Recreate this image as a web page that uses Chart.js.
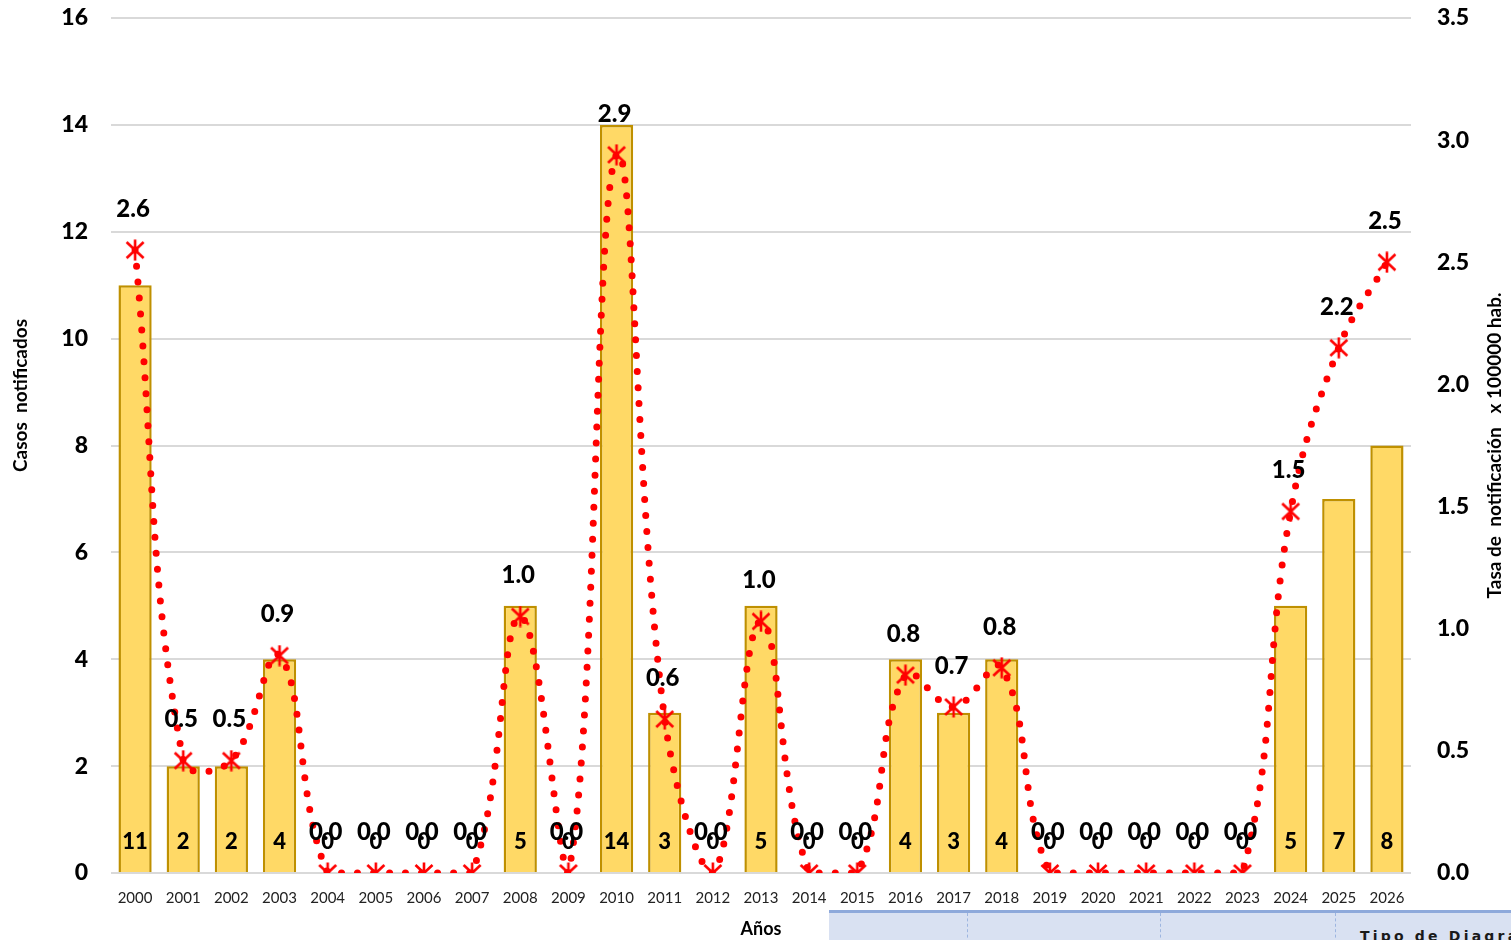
<!DOCTYPE html>
<html lang="es">
<head>
<meta charset="utf-8">
<title>Casos notificados y tasa de notificación</title>
<script src="https://cdn.jsdelivr.net/npm/chart.js@4.4.1/dist/chart.umd.min.js"></script>
<style>
  html, body { margin: 0; padding: 0; background: #fff; overflow: hidden; }
  #wrap { position: relative; width: 1511px; height: 940px; }
  #chart { position: absolute; left: 0; top: 0; }
  /* pedazo de la tabla de la hoja que asoma abajo */
  .sheet {
    position: absolute; left: 829px; top: 910px; width: 682px; height: 30px;
    background: #D9E1F2; border-top: 3px solid #8EA9DB; overflow: hidden;
  }
  .sheet .sep { position: absolute; top: 0; bottom: 0; border-left: 1px dashed #9DB5E0; }
  .sheet .txt {
    position: absolute; left: 531px; top: 15px; white-space: nowrap;
    font: bold 14px "DejaVu Sans", sans-serif; letter-spacing: 3.2px; color: #1a1a1a;
  }
</style>
</head>
<body>
<div id="wrap">
  <canvas id="chart" width="1511" height="940"></canvas>
  <div class="sheet">
    <div class="sep" style="left:138px"></div>
    <div class="sep" style="left:331px"></div>
    <div class="sep" style="left:506px"></div>
    <div class="txt">Tipo de Diagrama</div>
  </div>
</div>
<script>
// ===== DATA =====
const years = ['2000','2001','2002','2003','2004','2005','2006','2007','2008','2009','2010','2011','2012',
               '2013','2014','2015','2016','2017','2018','2019','2020','2021','2022','2023','2024','2025','2026'];
const casos = [11, 2, 2, 4, 0, 0, 0, 0, 5, 0, 14, 3, 0, 5, 0, 0, 4, 3, 4, 0, 0, 0, 0, 0, 5, 7, 8];
const tasa  = [2.55, 0.46, 0.46, 0.89, 0, 0, 0, 0, 1.05, 0, 2.94, 0.63, 0, 1.03, 0, 0, 0.81, 0.68, 0.84,
               0, 0, 0, 0, 0, 1.48, 2.15, 2.5];
const tasaLabels = ['2.6','0.5','0.5','0.9','0.0','0.0','0.0','0.0','1.0','0.0','2.9','0.6','0.0',
                    '1.0','0.0','0.0','0.8','0.7','0.8','0.0','0.0','0.0','0.0','0.0','1.5','2.2','2.5'];

const leftTitle = 'Casos  notificados';
const rightTitle = 'Tasa de  notificación   x 100000 hab.';
const xTitle = 'Años';

const FONT = 'Lato, "Open Sans", sans-serif';
const HEAVY = '900';

// ===== STAR MARKER (X + vertical bar, like Excel) =====
function makeStar() {
  const c = document.createElement('canvas');
  c.width = 22; c.height = 22;
  const g = c.getContext('2d');
  g.strokeStyle = '#FF0000';
  g.lineWidth = 2.6;
  g.beginPath();
  g.moveTo(2.5, 3); g.lineTo(19.5, 19);
  g.moveTo(19.5, 3); g.lineTo(2.5, 19);
  g.moveTo(11, 0.5); g.lineTo(11, 21.5);
  g.stroke();
  return c;
}

// ===== LABELS + ROTATED TITLES =====
const labelPlugin = {
  id: 'labelPlugin',
  afterDatasetsDraw(chart) {
    const ctx = chart.ctx;
    const area = chart.chartArea;
    const y0 = chart.scales.y.getPixelForValue(0);
    ctx.save();
    ctx.fillStyle = '#000';
    ctx.textAlign = 'center';
    ctx.textBaseline = 'middle';

    // bar values, at the foot of each bar
    ctx.font = HEAVY + ' 22px ' + FONT;
    chart.getDatasetMeta(0).data.forEach((el, i) => {
      ctx.fillText(String(casos[i]), el.x, y0 - 31);
    });

    // rate values, above each marker
    ctx.font = HEAVY + ' 24px ' + FONT;
    chart.getDatasetMeta(1).data.forEach((el, i) => {
      ctx.fillText(tasaLabels[i], el.x - 2, el.y - 41);
    });

    // axis titles (both read bottom-to-top)
    ctx.font = 'bold 19px ' + FONT;
    ctx.save();
    ctx.translate(21, area.top + (area.bottom - area.top) / 2 - 50);
    ctx.rotate(-Math.PI / 2);
    ctx.fillText(leftTitle, 0, 0);
    ctx.restore();

    ctx.save();
    ctx.translate(chart.width - 16, area.top + (area.bottom - area.top) / 2);
    ctx.rotate(-Math.PI / 2);
    ctx.fillText(rightTitle, 0, 0);
    ctx.restore();

    ctx.restore();
  }
};

const noPad = s => { s.paddingTop = 0; s.paddingBottom = 0; s.paddingLeft = 0; s.paddingRight = 0; };

new Chart(document.getElementById('chart'), {
  data: {
    labels: years,
    datasets: [
      {
        type: 'bar',
        label: 'Casos notificados',
        data: casos,
        yAxisID: 'y',
        backgroundColor: '#FFD966',
        borderColor: '#BF9000',
        borderWidth: 2.5,
        borderSkipped: 'bottom',
        categoryPercentage: 1,
        barPercentage: 0.69,
        order: 2
      },
      {
        type: 'line',
        label: 'Tasa x 100000 hab.',
        data: tasa,
        yAxisID: 'y1',
        borderColor: '#FF0000',
        borderWidth: 7,
        borderDash: [0, 16],
        borderCapStyle: 'round',
        tension: 0.4,
        fill: false,
        pointStyle: makeStar(),
        pointRadius: 11,
        order: 1
      }
    ]
  },
  options: {
    responsive: false,
    animation: false,
    layout: { padding: { top: 18, left: 0, right: 0, bottom: 0 } },
    plugins: {
      legend: { display: false },
      tooltip: { enabled: false }
    },
    scales: {
      x: {
        grid: { display: false, drawTicks: false },
        border: { display: false },
        ticks: { color: '#222', font: { family: FONT, size: 15 }, padding: 16, maxRotation: 0, autoSkip: false },
        title: { display: true, text: xTitle, color: '#000', font: { family: FONT, size: 18, weight: 'bold' },
                 padding: { top: 0, bottom: 0 } },
        afterFit: s => { s.height = 67; noPad(s); }
      },
      y: {
        position: 'left',
        min: 0, max: 16,
        grid: { color: '#D9D9D9', lineWidth: 2, drawTicks: false },
        border: { display: false },
        ticks: { stepSize: 2, color: '#000', font: { family: FONT, size: 23, weight: HEAVY }, padding: 23 },
        afterFit: s => { s.width = 111; noPad(s); }
      },
      y1: {
        position: 'right',
        min: 0, max: 3.5,
        grid: { display: false, drawTicks: false },
        border: { display: false },
        ticks: { stepSize: 0.5, color: '#000', font: { family: FONT, size: 23, weight: HEAVY }, padding: 26,
                 callback: v => v.toFixed(1) },
        afterFit: s => { s.width = 100; noPad(s); }
      }
    }
  },
  plugins: [labelPlugin]
});
</script>
</body>
</html>
